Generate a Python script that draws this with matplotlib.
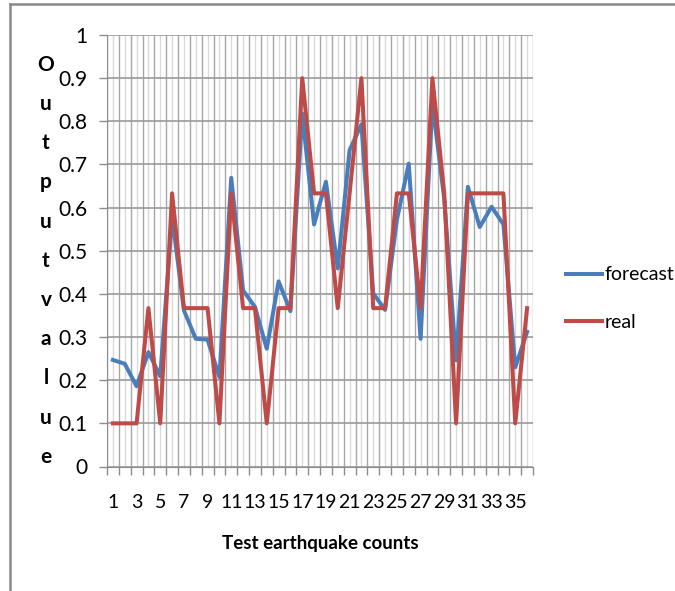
import matplotlib
matplotlib.use('Agg')
import matplotlib.pyplot as plt
from matplotlib.lines import Line2D

counts = list(range(1, 37))
forecast = [0.247, 0.238, 0.186, 0.265, 0.209, 0.580, 0.362, 0.296, 0.294, 0.207,
            0.669, 0.408, 0.370, 0.273, 0.429, 0.360, 0.818, 0.561, 0.660, 0.459,
            0.733, 0.793, 0.401, 0.363, 0.572, 0.702, 0.296, 0.842, 0.620, 0.246,
            0.648, 0.555, 0.602, 0.561, 0.230, 0.312]
real = [0.1, 0.1, 0.1, 0.367, 0.1, 0.633, 0.367, 0.367, 0.367, 0.1,
        0.633, 0.367, 0.367, 0.1, 0.367, 0.367, 0.9, 0.633, 0.633, 0.367,
        0.633, 0.9, 0.367, 0.367, 0.633, 0.633, 0.367, 0.9, 0.633, 0.1,
        0.633, 0.633, 0.633, 0.633, 0.1, 0.367]
x_labels = [str(c) if c % 2 == 1 else '' for c in counts]
y_letters = list('Outputvalue')

plt.rcParams['font.family'] = ['Lato', 'DejaVu Sans']

fig = plt.figure(figsize=(6.75, 5.91), dpi=100)
ax = fig.add_axes([107/675, 1 - 466.5/591, 426/675, 431.5/591])

blue = '#4a7ebb'
red = '#be4b48'
ax.plot(counts, forecast, color=blue, lw=2.9, label='forecast', zorder=3)
ax.plot(counts, real, color=red, lw=2.9, label='real', zorder=4)

ax.set_xlim(0.5, 36.5)
ax.set_ylim(0, 1)

# major ticks on category borders, minor at category centres (labels there)
ax.set_xticks([c - 0.5 for c in counts] + [36.5])
ax.set_xticklabels([])
ax.set_xticks(counts, minor=True)
ax.set_xticklabels(x_labels, minor=True, fontsize=14)
ax.tick_params(axis='x', which='major', length=6, color='#8c8c8c', width=1)
ax.tick_params(axis='x', which='minor', length=0, pad=20)

ax.set_yticks([i / 10 for i in range(11)])
ax.set_yticklabels(['0', '0.1', '0.2', '0.3', '0.4', '0.5', '0.6', '0.7', '0.8', '0.9', '1'],
                   fontsize=15)
ax.tick_params(axis='y', length=6, color='#8c8c8c', width=1, pad=8)

ax.grid(True, which='major', axis='y', color='#9a9a9a', lw=1.2)
ax.grid(True, which='major', axis='x', color='#a6a6a6', lw=1.0)
ax.grid(True, which='minor', axis='x', color='#d9d9d9', lw=1.0)
ax.set_axisbelow(True)

for s in ['top', 'right']:
    ax.spines[s].set_visible(False)
ax.spines['left'].set_color('#8c8c8c')
ax.spines['bottom'].set_color('#8c8c8c')

ax.set_xlabel('Test earthquake counts', fontsize=13.5, fontweight='bold', labelpad=17)

# vertical stacked y label
top_y = 1 - 64.8/591
step = 39.2/591
for i, ch in enumerate(y_letters):
    fig.text(46/675, top_y - i*step, ch, fontsize=15, fontweight='bold',
             ha='center', va='center')

ax.legend(loc='center left', bbox_to_anchor=(558/675, 1 - 298.5/591),
          bbox_transform=fig.transFigure, frameon=False, fontsize=14,
          borderaxespad=0, handlelength=1.85, handletextpad=0.15, labelspacing=1.55)

# outer frame (cut at right and bottom)
fig.add_artist(Line2D([10/675, 1], [1 - 4/591, 1 - 4/591], color='#8a8a8a', lw=1.8,
                      transform=fig.transFigure))
fig.add_artist(Line2D([10/675, 10/675], [0, 1 - 4/591], color='#8a8a8a', lw=1.8,
                      transform=fig.transFigure))

fig.savefig('out.png', dpi=100)
